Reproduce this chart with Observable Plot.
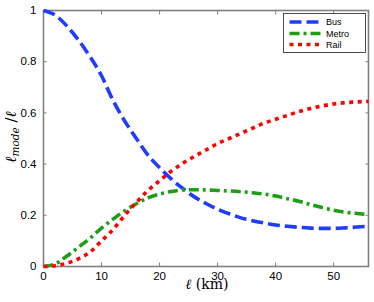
<!DOCTYPE html>
<html><head><meta charset="utf-8">
<script src="https://cdn.jsdelivr.net/npm/d3@7"></script>
<script src="https://cdn.jsdelivr.net/npm/@observablehq/plot@0.6"></script>
<style>html,body{margin:0;padding:0;background:#fff}svg{display:block}</style>
</head><body><div id="chart"></div>
<script>
// ---- data ----
const distanceKm = [0,2,4,6,8,10,12,14,16,18,20,22,24,26,28,30,32,34,36,38,40,42,44,46,48,50,52,54,56];
const busShare   = [1.0,0.982,0.94,0.885,0.82,0.745,0.648,0.568,0.5,0.435,0.386,0.342,0.305,0.272,0.246,0.224,0.206,0.19,0.179,0.17,0.162,0.157,0.153,0.15,0.149,0.149,0.151,0.154,0.157];
const metroShare = [0,0.01,0.04,0.075,0.11,0.15,0.185,0.218,0.245,0.268,0.283,0.293,0.299,0.3,0.299,0.297,0.295,0.292,0.288,0.283,0.275,0.265,0.255,0.242,0.23,0.22,0.212,0.207,0.203];
const railShare  = [0,0.003,0.013,0.03,0.056,0.1,0.145,0.2,0.25,0.297,0.335,0.372,0.403,0.43,0.455,0.48,0.5,0.52,0.54,0.56,0.575,0.59,0.605,0.617,0.627,0.635,0.64,0.643,0.645];
const seriesNames = ["Bus","Metro","Rail"];
const xTicks = [0,10,20,30,40,50];
const yTicks = [0,0.2,0.4,0.6,0.8,1];
const yTickLabels = ["0","0.2","0.4","0.6","0.8","1"];
const xLabelMain = "ℓ";
const xLabelUnit = " (km)";

// ---- styles ----
const seriesColors = ["#1f3cff","#1e9e14","#ff0000"];
const seriesDash = ["12,5","10,4,3,4","4,4.5"];
const lineWidth = 3.6;

const seriesValues = [busShare, metroShare, railShare];
const rowsFor = i => distanceKm.map((km, j) => ({km, share: seriesValues[i][j], mode: seriesNames[i]}));

const gray = "#808080";
const plot = Plot.plot({
  width: 374, height: 302,
  marginLeft: 43, marginRight: 6, marginTop: 10, marginBottom: 36,
  x: {domain: [0, 56]},
  y: {domain: [0, 1]},
  style: {fontFamily: "'Liberation Sans', Arial, sans-serif", fontSize: "11.5px", color: "#000", background: "#fff"},
  marks: [
    Plot.frame({stroke: gray, strokeWidth: 1.6}),
    Plot.axisX(xTicks, {anchor: "bottom", tickSize: -3.5, stroke: gray, tickFormat: () => "", label: null}),
    Plot.axisX(xTicks, {anchor: "top", tickSize: -3.5, stroke: gray, tickFormat: () => "", label: null}),
    Plot.axisY(yTicks, {anchor: "left", tickSize: -3.5, stroke: gray, tickFormat: () => "", label: null}),
    Plot.axisY(yTicks, {anchor: "right", tickSize: -3.5, stroke: gray, tickFormat: () => "", label: null}),
    Plot.axisX(xTicks, {anchor: "bottom", tickSize: 0, tickPadding: 5, tickFormat: d => String(d), label: null}),
    Plot.axisY(yTicks, {anchor: "left", tickSize: 0, tickPadding: 7, tickFormat: d => yTickLabels[yTicks.indexOf(d)], label: null}),
    ...seriesNames.map((name, i) => Plot.line(rowsFor(i), {
      x: "km", y: "share", stroke: seriesColors[i], strokeWidth: lineWidth,
      strokeDasharray: seriesDash[i], strokeLinecap: "butt", curve: "monotone-x"
    }))
  ]
});
document.getElementById("chart").appendChild(plot);

const svg = d3.select(plot);
// x label
const xl = svg.append("text")
  .attr("x", 207).attr("y", 289)
  .attr("text-anchor", "middle")
  .style("font-family", "'DejaVu Serif', 'Liberation Serif', serif")
  .style("font-size", "14px").attr("fill", "#000");
xl.append("tspan").style("font-style", "italic").text(xLabelMain);
xl.append("tspan").text(xLabelUnit);

// y label
const yl = svg.append("text")
  .attr("transform", "translate(16,137) rotate(-90)")
  .attr("text-anchor", "middle")
  .style("font-family", "'DejaVu Serif', 'Liberation Serif', serif")
  .style("font-size", "15px").attr("fill", "#000");
yl.append("tspan").style("font-style", "italic").text("ℓ");
yl.append("tspan").style("font-style", "italic").style("font-size", "10.5px").attr("dy", 3).text("mode");
yl.append("tspan").attr("dy", -3).text(" /");
yl.append("tspan").style("font-style", "italic").text("ℓ");

// legend
const lg = svg.append("g");
lg.append("rect").attr("x", 283.5).attr("y", 13.5).attr("width", 82).attr("height", 39)
  .attr("fill", "#fff").attr("stroke", "#222").attr("stroke-width", 0.8);
const rowY = [22, 33.5, 44.5];
seriesNames.forEach((name, i) => {
  lg.append("line").attr("x1", 289.5).attr("x2", 322).attr("y1", rowY[i]).attr("y2", rowY[i])
    .attr("stroke", seriesColors[i]).attr("stroke-width", lineWidth).attr("stroke-dasharray", seriesDash[i]);
  lg.append("text").attr("x", 326).attr("y", rowY[i] + 3.3)
    .attr("text-anchor", "start")
    .style("font-family", "'Liberation Sans', Arial, sans-serif").style("font-size", "9px")
    .attr("fill", "#000").text(name);
});
</script>
</body></html>
